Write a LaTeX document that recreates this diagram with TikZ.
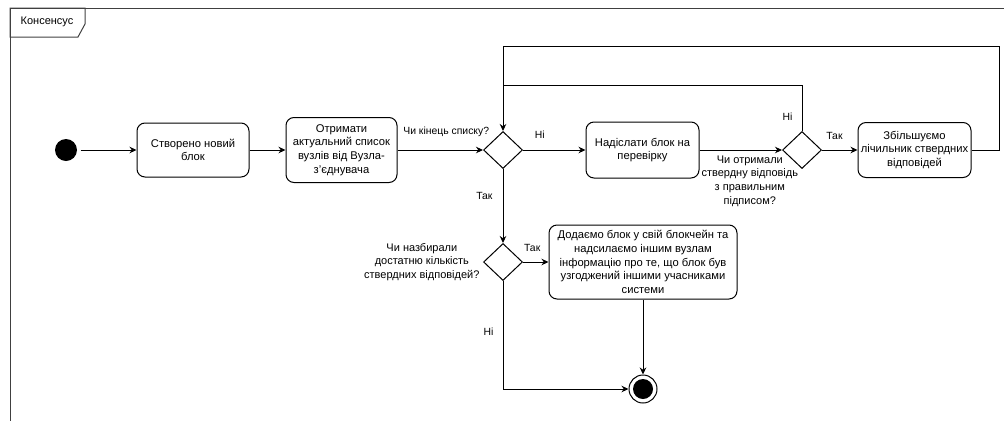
\documentclass[tikz,border=0pt]{standalone}
\usepackage{fontspec}
\setmainfont{Liberation Sans}
\usetikzlibrary{shapes.geometric,arrows.meta,positioning}
\tikzset{action/.style={draw, rounded corners=8pt, align=center, inner sep=2pt, font=\fontsize{11.2}{13.6}\selectfont},
	decision/.style={draw, diamond, minimum width=39, minimum height=37, inner sep=0pt},
	startnode/.style={circle, fill=black, minimum size=22, inner sep=0pt},
	finishnode/.style={draw, circle, minimum size=28, inner sep=0pt, path picture={\fill (path picture bounding box.center) circle (10pt);}},
	flow/.style={-{Stealth[length=7pt, width=6.5pt]}},
	lbl/.style={inner sep=1pt, font=\fontsize{10.4}{13.6}\selectfont, align=center},
	question/.style={lbl, font=\fontsize{11}{13.8}\selectfont},
	frame/.style={draw=black!75}}

\begin{document}
\begin{tikzpicture}[x=1pt, y=-1pt, line width=1pt]
	\useasboundingbox (0,0) rectangle (1004,421);
	%Rahmen
	\draw[frame] (1004,8) -- (10,8) -- (10,421);
	\draw[frame] (10,8) -- (85,8) -- (85,24) -- (78,37) -- (10,37) -- cycle;
	\draw (47,22) node[question] (title){Консенсус};
	%Knoten
	\node[startnode] (start) at (66,150) {};
	\node[action, minimum width=112, minimum height=54] (created) at (193,150) {Створено новий\\блок};
	\node[action, minimum width=111, minimum height=65] (getlist) at (341.5,150) {Отримати\\актуальний список\\вузлів від Вузла-\\з'єднувача};
	\node[decision] (endlist) at (503,150) {};
	\node[action, minimum width=113, minimum height=56] (send) at (642.5,150) {Надіслати блок на\\перевірку};
	\node[decision] (confirmed) at (802,150) {};
	\node[action, minimum width=113, minimum height=55] (count) at (914.5,150) {Збільшуємо\\лічильник ствердних\\відповідей};
	\node[decision] (enough) at (503,262) {};
	\node[question, left=2pt of enough] (askenough) {Чи назбирали\\достатню кількість\\ствердних відповідей?};
	\node[action, minimum width=188, minimum height=74] (addblock) at (643,262) {Додаємо блок у свій блокчейн та\\надсилаємо іншим вузлам\\інформацію про те, що блок був\\узгоджений іншими учасниками\\системи};
	\node[finishnode] (finish) at (643,389) {};
	%Hilfspunkte
	\coordinate (backR) at (999,46);
	\coordinate (backL) at (503,46);
	\coordinate (backJ) at (503,85);
	%Pfeile
	\draw[flow, shorten <=3pt] (start) -- (created);
	\draw[flow] (created) -- (getlist);
	\draw[flow] (getlist) -- node[lbl, above=12pt, pos=0.57]{Чи кінець списку?} (endlist);
	\draw[flow] (endlist) -- node[lbl, above=10pt, pos=0.27]{Ні} (send);
	\draw[flow] (endlist) -- node[lbl, left=9pt, pos=0.37]{Так} (enough);
	\draw[flow] (send) -- node[question, below=4pt, pos=0.61]{Чи отримали\\ствердну відповідь\\з правильним\\підписом?} (confirmed);
	\draw[flow] (confirmed) -- node[lbl, above=9pt, pos=0.35]{Так} (count);
	\draw[flow] (count.east) -| (backR) -- (backL) -- (endlist.north);
	\draw (confirmed.north) -- node[lbl, left=8pt, pos=0.32]{Ні} (confirmed.north |- backJ) -- (backJ);
	\draw[flow] (enough) -- node[lbl, above=9pt, pos=0.36]{Так} (addblock);
	\draw[flow] (enough.south) |- node[lbl, left=8pt, pos=0.236]{Ні} (finish.west);
	\draw[flow] (addblock.south) -- (finish.north);
\end{tikzpicture}
\end{document}
